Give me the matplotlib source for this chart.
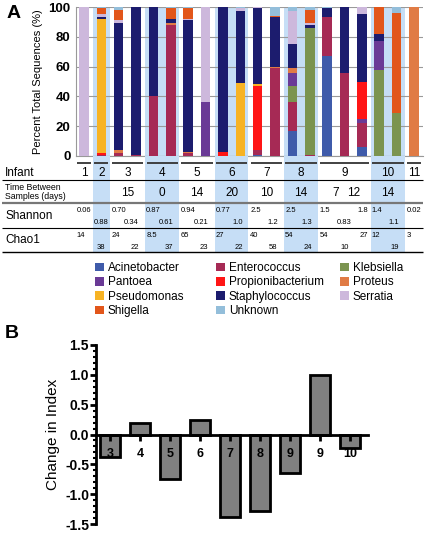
import matplotlib.pyplot as plt
from matplotlib.patches import Patch
from matplotlib.ticker import MultipleLocator
import numpy as np

plt.rcParams['font.family'] = ['Liberation Sans', 'DejaVu Sans']
plt.rcParams['axes.unicode_minus'] = False

# ---- data (panel A) ----
infant_of_bar = [1, 2, 3, 3, 4, 4, 5, 5, 6, 6, 7, 7, 8, 8, 9, 9, 9, 10, 10, 11]

taxa = ["Acinetobacter", "Enterococcus", "Klebsiella", "Pantoea", "Propionibacterium",
        "Proteus", "Pseudomonas", "Staphylococcus", "Serratia", "Shigella", "Unknown"]

acinetobacter     = [0, 0, 0, 0, 0, 0, 0, 0, 0, 0, 1, 0, 17, 0, 67, 0, 6, 0, 0, 0]
enterococcus      = [0, 1, 2, 1, 40, 88, 2, 0, 0, 0, 3, 59, 19, 1, 26, 56, 16, 0, 0, 0]
klebsiella        = [0, 0, 0, 0, 0, 0, 0, 0, 0, 0, 0, 0, 11, 85, 0, 0, 0, 58, 29, 0]
pantoea           = [0, 0, 0, 0, 0, 0, 0, 36, 0, 0, 0, 0, 9, 0, 0, 0, 3, 19, 0, 0]
propionibacterium = [0, 1, 0, 0, 0, 0, 0, 0, 3, 0, 43, 0, 0, 0, 0, 0, 25, 0, 0, 0]
proteus           = [0, 0, 2, 0, 0, 1, 1, 0, 0, 0, 0, 1, 3, 0, 0, 0, 0, 0, 0, 100]
pseudomonas       = [0, 90, 0, 0, 0, 0, 0, 0, 0, 49, 1, 0, 0, 0, 0, 0, 0, 0, 0, 0]
staphylococcus    = [0, 1, 85, 99, 60, 3, 88, 0.5, 97, 48, 51, 33, 16, 2, 6, 44, 45, 5, 0, 0]
serratia          = [100, 2, 2, 0, 0, 0, 1, 63.5, 0, 2, 1, 0, 22, 1, 0, 0, 5, 0, 0, 0]
shigella          = [0, 4, 7, 0, 0, 7, 7, 0, 0, 0, 0, 1, 0, 9, 0, 0, 0, 18, 67, 0]
unknown           = [0, 1, 2, 0, 0, 1, 1, 0, 0, 1, 0, 6, 3, 2, 1, 0, 0, 0, 4, 0]

series = [acinetobacter, enterococcus, klebsiella, pantoea, propionibacterium,
          proteus, pseudomonas, staphylococcus, serratia, shigella, unknown]

colors = ["#3F5BAA", "#A62A55", "#7B9450", "#6A3A96", "#FF1515",
          "#E07B45", "#F7B324", "#1C1C6E", "#CDB8DC", "#E2561A", "#93BEDA"]

time_between = [15, 0, 14, 20, 10, 14, 7, 12, 14]

shannon = ["0.06", "0.88", "0.70", "0.34", "0.87", "0.61", "0.94", "0.21", "0.77", "1.0",
           "2.5", "1.2", "2.5", "1.3", "1.5", "0.83", "1.8", "1.4", "1.1", "0.02"]
chao1 = ["14", "38", "24", "22", "8.5", "37", "65", "23", "27", "22",
         "40", "58", "54", "24", "54", "10", "27", "12", "19", "3"]
# where each value sits in its cell: t/b = top/bottom line, l/c/r = alignment
place = ["tl", "bc", "tl", "br", "tl", "br", "tl", "br", "tl", "br",
         "tl", "br", "tl", "br", "tl", "bc", "tr", "tl", "br", "tl"]

# ---- data (panel B) ----
change_labels = ["3", "4", "5", "6", "7", "8", "9", "9", "10"]
change = [-0.37, 0.19, -0.74, 0.24, -1.38, -1.28, -0.65, 1.0, -0.23]

W, H = 430, 533
def fx(p): return p / W
def fy(p): return 1 - p / H

fig = plt.figure(figsize=(4.3, 5.33), dpi=100)
shade = "#C6DEF6"

x = np.arange(len(infant_of_bar))
xlim = (-0.46, 19.52)
infants = sorted(set(infant_of_bar))
groups = {n: [i for i, g in enumerate(infant_of_bar) if g == n] for n in infants}

# ---- panel A bars ----
ax = fig.add_axes([fx(76), fy(156), (423 - 76) / W, (156 - 7) / H])
bottom = np.zeros(len(x))
for name, vals, col in zip(taxa, series, colors):
    ax.bar(x, vals, 0.55, bottom=bottom, color=col, zorder=3, linewidth=0)
    bottom += np.array(vals)
for n in infants:
    if n % 2 == 0:
        ax.axvspan(groups[n][0] - 0.47, groups[n][-1] + 0.47, color=shade, lw=0, zorder=0)
ax.set_xlim(*xlim)
ax.set_ylim(0, 100)
ax.set_yticks([0, 20, 40, 60, 80, 100])
ax.set_xticks([])
ax.yaxis.grid(True, color="#9a9a9a", lw=0.8, zorder=1)
ax.set_axisbelow(True)
ax.tick_params(axis='y', length=0, pad=4, labelsize=9.5)
for lab in ax.get_yticklabels():
    lab.set_fontweight('bold')
for s in ['top', 'right']:
    ax.spines[s].set_visible(False)
for s in ['left', 'bottom']:
    ax.spines[s].set_color("#999999")
    ax.spines[s].set_linewidth(0.8)
ax.set_ylabel("Percent Total Sequences (%)", fontsize=8)
ax.yaxis.set_label_coords(-0.096, 0.5)

# ---- table under panel A ----
axt = fig.add_axes([fx(76), fy(253), (423 - 76) / W, (253 - 156) / H])
axt.set_xlim(*xlim)
axt.set_ylim(253, 156)
axt.axis('off')
for n in infants:
    g = groups[n]
    if n % 2 == 0:
        axt.axvspan(g[0] - 0.47, g[-1] + 0.47, ymin=0.01, ymax=1, color=shade, lw=0, zorder=0)
    axt.hlines(163, g[0] - 0.4, g[-1] + 0.4, color="#333333", lw=1.3)
    axt.text((g[0] + g[-1]) / 2, 173, str(n), ha='center', va='center', fontsize=8.5)

xl = -4.7
axt.hlines(180, xl, xlim[1], color="black", lw=0.8, clip_on=False)
axt.hlines(203, xl, xlim[1], color="#777777", lw=1.6, clip_on=False)
axt.hlines(228, xl, xlim[1], color="black", lw=0.8, clip_on=False)
axt.hlines(252, xl, xlim[1], color="black", lw=1.0, clip_on=False)

fig.text(fx(5), fy(173), "Infant", fontsize=8.5, va='center')
fig.text(fx(5), fy(192), "Time Between\nSamples (days)", fontsize=6.3, va='center', linespacing=1.0)
fig.text(fx(5), fy(216), "Shannon", fontsize=8.5, va='center')
fig.text(fx(5), fy(240), "Chao1", fontsize=8.5, va='center')

pairs = [(i, i + 1) for i in range(len(x) - 1) if infant_of_bar[i] == infant_of_bar[i + 1]]
for (a, b), d in zip(pairs, time_between):
    axt.text((a + b) / 2, 193, str(d), ha='center', va='center', fontsize=8.5)

for i, (s, c, p) in enumerate(zip(shannon, chao1, place)):
    if p[1] == 'l':
        xx, ha = i - 0.42, 'left'
    elif p[1] == 'r':
        xx, ha = i + 0.35 if p[0] == 't' else i + 0.15, 'right'
    else:
        xx, ha = i, 'center'
    ys = 210 if p[0] == 't' else 222
    yc = 235 if p[0] == 't' else 247
    axt.text(xx, ys, s, ha=ha, va='center', fontsize=5.5)
    axt.text(xx, yc, c, ha=ha, va='center', fontsize=5.5)

# ---- legend, three columns ----
handles = [Patch(facecolor=c, edgecolor='none', label=t) for t, c in zip(taxa, colors)]
col_sets = [["Acinetobacter", "Pantoea", "Pseudomonas", "Shigella"],
            ["Enterococcus", "Propionibacterium", "Staphylococcus", "Unknown"],
            ["Klebsiella", "Proteus", "Serratia"]]
by_name = dict(zip(taxa, handles))
for cx, names in zip([95, 216, 340], col_sets):
    fig.legend(handles=[by_name[n] for n in names], loc='upper left',
               bbox_to_anchor=(fx(cx), fy(262)), frameon=False, fontsize=8.5,
               handlelength=0.75, handleheight=0.75, handletextpad=0.35,
               labelspacing=0.2, borderpad=0, borderaxespad=0)

fig.text(fx(7), fy(14), "A", fontsize=14, fontweight='bold', va='center')
fig.text(fx(5), fy(333), "B", fontsize=14, fontweight='bold', va='center')

# ---- panel B ----
axb = fig.add_axes([fx(96), fy(524), (368 - 96) / W, (524 - 345) / H])
xb = np.arange(len(change))
axb.bar(xb, change, 0.67, color="#808080", edgecolor="black", linewidth=2, zorder=2)
axb.set_axisbelow(False)
axb.set_xlim(-0.467, 8.6)
axb.set_ylim(-1.5, 1.5)
axb.spines['top'].set_visible(False)
axb.spines['right'].set_visible(False)
axb.spines['bottom'].set_position(('data', 0))
for s in ['left', 'bottom']:
    axb.spines[s].set_linewidth(2)
    axb.spines[s].set_zorder(3)
axb.set_xticks(xb)
axb.set_xticklabels(change_labels, fontweight='bold', fontsize=9)
axb.set_yticks([-1.5, -1.0, -0.5, 0.0, 0.5, 1.0, 1.5])
axb.set_yticklabels(["-1.5", "-1.0", "-0.5", "0.0", "0.5", "1.0", "1.5"], fontweight='bold', fontsize=10)
axb.yaxis.set_minor_locator(MultipleLocator(0.1))
axb.tick_params(axis='y', which='major', length=4, width=2, pad=1)
axb.tick_params(axis='y', which='minor', length=2.5, width=1.5)
axb.tick_params(axis='x', length=4.5, width=2, pad=5)
axb.set_ylabel("Change in Index", fontsize=11)
axb.yaxis.set_label_coords(-0.132, 0.5)

fig.savefig("out.png", dpi=100)
